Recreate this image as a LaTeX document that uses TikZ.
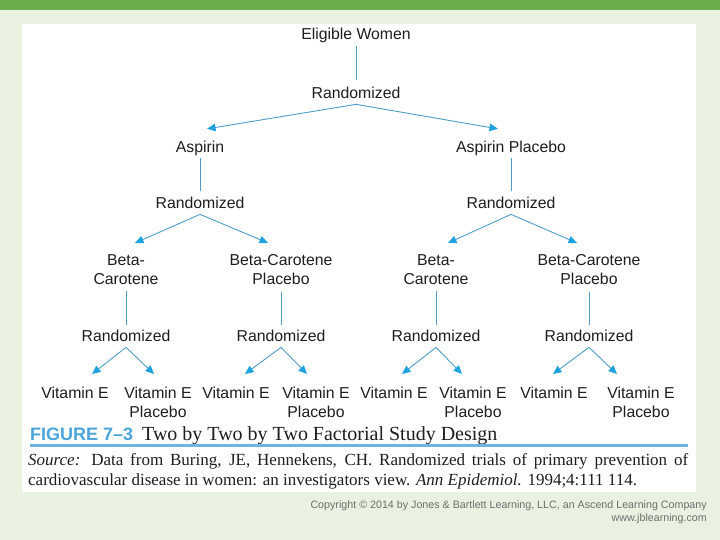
\documentclass[tikz,border=0pt]{standalone}
\usepackage{fontspec}
\setmainfont{Liberation Serif}
\setsansfont{Liberation Sans}
\usetikzlibrary{arrows.meta,calc}
\definecolor{bgc}{HTML}{E9F2E0}
\definecolor{barc}{HTML}{6AAD4B}
\definecolor{linec}{HTML}{4F9DC7}
\definecolor{headc}{HTML}{1FA2DF}
\definecolor{figc}{HTML}{4BA5DA}
\definecolor{rulec}{HTML}{6EB4DC}
\definecolor{txtc}{HTML}{1E1E1E}
\definecolor{copyc}{HTML}{6E6E6E}
\begin{document}
\begin{tikzpicture}[x=1pt,y=-1pt,
 lbl/.style={font=\sffamily\fontsize{15.8}{19}\selectfont, text=txtc, inner sep=1pt, align=center},
 lblb/.style={lbl, anchor=base},
 lbln/.style={lbl, anchor=north},
 vline/.style={draw=linec, line width=1pt},
 arr/.style={draw=linec, line width=0.9pt, -{Triangle[length=8.5pt,width=7.5pt,color=headc]}},
]
\useasboundingbox (0,0) rectangle (720,540);
\fill[bgc] (0,0) rectangle (720,540);
\fill[barc] (0,0) rectangle (720,10);
\fill[white] (22,24) rectangle (696,492);

% level 0
\node[lblb] (ew) at (356,40) {Eligible Women};
\node[lblb] (r0) at (356,98.5) {Randomized};
% level 1
\node[lblb] (asp) at (200,152.5) {Aspirin};
\node[lblb] (aspp) at (511,152.5) {Aspirin Placebo};
\node[lblb] (r1) at (200,208.5) {Randomized};
\node[lblb] (r2) at (511,208.5) {Randomized};
% level 2
\node[lbln] (bc1) at (126,253) {Beta-\\Carotene};
\node[lbln] (bcp1) at (281,253) {Beta-Carotene\\Placebo};
\node[lbln] (bc2) at (436,253) {Beta-\\Carotene};
\node[lbln] (bcp2) at (589,253) {Beta-Carotene\\Placebo};
\node[lblb] (r11) at (126,341.5) {Randomized};
\node[lblb] (r12) at (281,341.5) {Randomized};
\node[lblb] (r21) at (436,341.5) {Randomized};
\node[lblb] (r22) at (589,341.5) {Randomized};
% level 3
\node[lbln] (v1) at (75,385.5) {Vitamin E};
\node[lbln] (v2) at (158,385.5) {Vitamin E\\Placebo};
\node[lbln] (v3) at (236,385.5) {Vitamin E};
\node[lbln] (v4) at (316,385.5) {Vitamin E\\Placebo};
\node[lbln] (v5) at (394,385.5) {Vitamin E};
\node[lbln] (v6) at (473,385.5) {Vitamin E\\Placebo};
\node[lbln] (v7) at (554,385.5) {Vitamin E};
\node[lbln] (v8) at (641,385.5) {Vitamin E\\Placebo};

% vertical connectors
\draw[vline] ([yshift=-2pt]ew.south) -- ([yshift=6pt]r0.north);
\draw[vline] ([yshift=-1.5pt]asp.south) -- ([yshift=5pt]r1.north);
\draw[vline] ([yshift=-1.5pt]aspp.south) -- ([yshift=5pt]r2.north);
\draw[vline] ([yshift=-6pt]bc1.south) -- ([yshift=4pt]r11.north);
\draw[vline] ([yshift=-6pt]bcp1.south) -- ([yshift=4pt]r12.north);
\draw[vline] ([yshift=-6pt]bc2.south) -- ([yshift=4pt]r21.north);
\draw[vline] ([yshift=-6pt]bcp2.south) -- ([yshift=4pt]r22.north);

% arrows
\draw[arr] ([yshift=-4.5pt]r0.south) -- ([xshift=7pt,yshift=11pt]asp.north);
\draw[arr] ([yshift=-4.5pt]r0.south) -- ([xshift=-13pt,yshift=11pt]aspp.north);
\draw[arr] ([yshift=-4.5pt]r1.south) -- ([xshift=9pt,yshift=10pt]bc1.north);
\draw[arr] ([yshift=-4.5pt]r1.south) -- ([xshift=-13pt,yshift=10pt]bcp1.north);
\draw[arr] ([yshift=-4.5pt]r2.south) -- ([xshift=12pt,yshift=10pt]bc2.north);
\draw[arr] ([yshift=-4.5pt]r2.south) -- ([xshift=-12pt,yshift=10pt]bcp2.north);
\draw[arr] ([yshift=-4.5pt]r11.south) -- ([xshift=17pt,yshift=11.5pt]v1.north);
\draw[arr] ([yshift=-4.5pt]r11.south) -- ([xshift=-4pt,yshift=11.5pt]v2.north);
\draw[arr] ([yshift=-4.5pt]r12.south) -- ([xshift=9pt,yshift=11.5pt]v3.north);
\draw[arr] ([yshift=-4.5pt]r12.south) -- ([xshift=-9pt,yshift=11.5pt]v4.north);
\draw[arr] ([yshift=-4.5pt]r21.south) -- ([xshift=8pt,yshift=11.5pt]v5.north);
\draw[arr] ([yshift=-4.5pt]r21.south) -- ([xshift=-11pt,yshift=11.5pt]v6.north);
\draw[arr] ([yshift=-4.5pt]r22.south) -- ([xshift=-1pt,yshift=11.5pt]v7.north);
\draw[arr] ([yshift=-4.5pt]r22.south) -- ([xshift=-24pt,yshift=11.5pt]v8.north);

% caption
\node[anchor=base west, inner sep=0, font=\sffamily\bfseries\fontsize{18}{20}\selectfont, text=figc] (fig) at (30,440) {FIGURE 7–3};
\node[anchor=base west, inner sep=0, font=\fontsize{20}{24}\selectfont, text=txtc] (cap) at (142,440) {Two by Two by Two Factorial Study Design};
\fill[rulec] (30,444) rectangle (688,447);
\node[anchor=north west, inner sep=0, text width=660pt, align=justify, font=\fontsize{17}{20}\selectfont, text=txtc] (src) at (28,453.5) {\textit{Source:} Data from Buring, JE, Hennekens, CH. Randomized trials of primary prevention of\linebreak cardiovascular disease in women: an investigators view. \textit{Ann Epidemiol.} 1994;4:111 114.};
\node[anchor=north east, inner sep=0, align=right, font=\sffamily\fontsize{10.7}{13.5}\selectfont, text=copyc] (copy) at (707,500.5) {Copyright © 2014 by Jones \& Bartlett Learning, LLC, an Ascend Learning Company\\www.jblearning.com};
\end{tikzpicture}
\end{document}
